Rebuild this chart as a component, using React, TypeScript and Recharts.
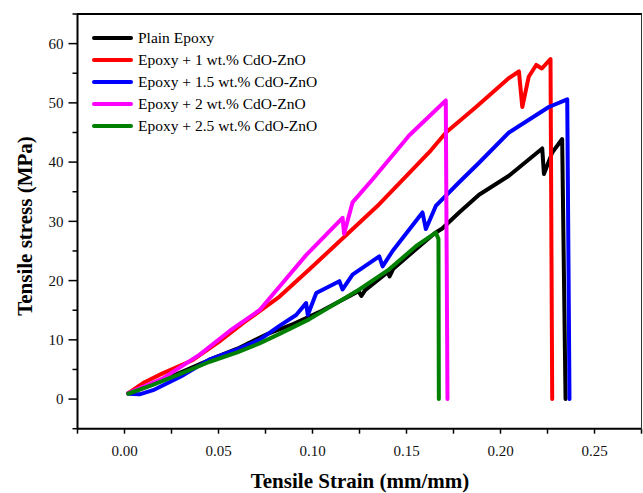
import { LineChart, Line, XAxis, YAxis, Legend } from "recharts";

// strain (mm/mm), stress (MPa) pairs
const plainEpoxy: [number, number][] = [
  [0.002, 1.0], [0.015, 2.5], [0.03, 4.5], [0.045, 6.6], [0.06, 8.5],
  [0.0754, 10.9], [0.09, 12.7], [0.105, 14.9], [0.1245, 18.2], [0.126, 17.4],
  [0.128, 18.4], [0.14, 21.4], [0.141, 20.7], [0.143, 22.0], [0.155, 25.3],
  [0.165, 28.0], [0.169, 28.8], [0.178, 31.5], [0.1886, 34.5], [0.2045, 37.7],
  [0.2222, 42.3], [0.2231, 38.0], [0.2275, 41.6], [0.2328, 43.9], [0.2346, 0],
];
const epoxy1: [number, number][] = [
  [0.002, 1.0], [0.0099, 2.7], [0.02, 4.3], [0.0364, 6.6], [0.05, 9.6],
  [0.063, 12.8], [0.0825, 17.3], [0.0984, 21.9], [0.1355, 32.9], [0.151, 38.0],
  [0.163, 42.0], [0.171, 45.0], [0.187, 49.3], [0.2045, 54.2], [0.2098, 55.3],
  [0.2116, 49.3], [0.215, 54.4], [0.219, 56.4], [0.222, 55.8], [0.2266, 57.4],
  [0.2275, 0],
];
const epoxy15: [number, number][] = [
  [0.002, 0.9], [0.008, 0.8], [0.0152, 1.5], [0.03, 3.8], [0.0453, 6.7],
  [0.06, 8.4], [0.0718, 10.0], [0.0826, 12.4], [0.0913, 14.2], [0.0966, 16.2],
  [0.0975, 14.2], [0.102, 17.9], [0.1143, 19.9], [0.116, 18.5], [0.1213, 21.0],
  [0.1355, 24.1], [0.1373, 22.4], [0.1426, 25.0], [0.1585, 31.5], [0.1603, 28.7],
  [0.1656, 32.6], [0.178, 36.6], [0.1886, 39.9], [0.2045, 45.0], [0.2257, 49.3],
  [0.2355, 50.6], [0.2367, 0],
];
const epoxy2: [number, number][] = [
  [0.002, 1.0], [0.02, 3.4], [0.04, 7.5], [0.0559, 11.5], [0.0718, 15.0],
  [0.0966, 24.3], [0.116, 30.6], [0.1168, 27.9], [0.1213, 33.2], [0.132, 37.1],
  [0.1514, 44.5], [0.1709, 50.4], [0.1718, 0],
];
const epoxy25: [number, number][] = [
  [0.002, 0.9], [0.015, 2.4], [0.03, 4.3], [0.0453, 6.3], [0.06, 7.9],
  [0.0718, 9.4], [0.0825, 11.0], [0.0984, 13.5], [0.1249, 18.5], [0.1408, 21.9],
  [0.155, 25.8], [0.1656, 28.1], [0.167, 27.0], [0.1672, 0],
];

const seriesNames = [
  "Plain Epoxy",
  "Epoxy + 1 wt.% CdO-ZnO",
  "Epoxy + 1.5 wt.% CdO-ZnO",
  "Epoxy + 2 wt.% CdO-ZnO",
  "Epoxy + 2.5 wt.% CdO-ZnO",
];
const seriesColors = ["#000000", "#ff0000", "#0000ff", "#ff00ff", "#008000"];
const seriesData = [plainEpoxy, epoxy1, epoxy15, epoxy2, epoxy25];

const xTicks = [-0.025, 0, 0.025, 0.05, 0.075, 0.1, 0.125, 0.15, 0.175, 0.2, 0.225, 0.25, 0.275];
const yTicks = [-5, 0, 5, 10, 15, 20, 25, 30, 35, 40, 45, 50, 55, 60, 65];

const FONT = '"Liberation Serif", "Times New Roman", serif';

const isMajorX = (v: number) => v >= 0 && v <= 0.25 && Math.abs(v * 20 - Math.round(v * 20)) < 1e-6;
const isMajorY = (v: number) => v >= 0 && v <= 60 && v % 10 === 0;

function XTick({ x, y, payload }: any) {
  const major = isMajorX(payload.value);
  return (
    <g>
      <line x1={x} x2={x} y1={y} y2={y + 5} stroke="#000" strokeWidth={1.5} />
      {major && (
        <text x={x} y={y + 27} textAnchor="middle" fontSize={15} fontFamily={FONT} fill="#111">
          {payload.value.toFixed(2)}
        </text>
      )}
    </g>
  );
}

function YTick({ x, y, payload }: any) {
  const major = isMajorY(payload.value);
  return (
    <g>
      <line x1={x - (major ? 9 : 5)} x2={x} y1={y} y2={y} stroke="#000" strokeWidth={1.5} />
      {major && (
        <text x={x - 14} y={y} dy="0.35em" textAnchor="end" fontSize={15} fontFamily={FONT} fill="#111">
          {payload.value}
        </text>
      )}
    </g>
  );
}

function XTitle() {
  return (
    <text x={360} y={488} textAnchor="middle" fontSize={21} fontWeight="bold" fontFamily={FONT} fill="#000">
      Tensile Strain (mm/mm)
    </text>
  );
}

function YTitle() {
  return (
    <text
      x={27}
      y={226}
      transform="rotate(-90 27 226)"
      textAnchor="middle"
      dominantBaseline="middle"
      fontSize={21}
      fontWeight="bold"
      fontFamily={FONT}
      fill="#000"
    >
      Tensile stress (MPa)
    </text>
  );
}

function LegendBox() {
  return (
    <div>
      {seriesNames.map((name, i) => (
        <div key={name} style={{ display: "flex", alignItems: "center", height: 22 }}>
          <span
            style={{
              display: "inline-block",
              width: 41,
              height: 4,
              borderRadius: 2,
              background: seriesColors[i],
              marginRight: 5,
            }}
          />
          <span style={{ fontFamily: FONT, fontSize: 15.5, color: "#000", whiteSpace: "nowrap" }}>{name}</span>
        </div>
      ))}
    </div>
  );
}

export default function App() {
  return (
    <div style={{ position: "absolute", left: 0, top: 0, width: 643, height: 493, background: "#fff" }}>
      <LineChart width={643} height={493} margin={{ top: 14, right: 1.5, bottom: 0, left: 0 }}>
        <XAxis
          type="number"
          dataKey="x"
          domain={[-0.025, 0.275]}
          ticks={xTicks}
          interval={0}
          tickSize={0}
          tickMargin={0}
          tick={<XTick />}
          height={64.3}
          axisLine={{ stroke: "#000", strokeWidth: 2 }}
          label={<XTitle />}
        />
        <YAxis
          type="number"
          dataKey="y"
          domain={[-5, 65]}
          ticks={yTicks}
          interval={0}
          tickSize={0}
          tickMargin={0}
          tick={<YTick />}
          width={77.5}
          axisLine={{ stroke: "#000", strokeWidth: 2 }}
          label={<YTitle />}
        />
        <Legend
          layout="vertical"
          align="center"
          verticalAlign="middle"
          content={<LegendBox />}
          wrapperStyle={{ left: 92, top: 27, width: 260 }}
        />
        {seriesData.map((pts, i) => (
          <Line
            key={seriesNames[i]}
            name={seriesNames[i]}
            data={pts.map(([x, y]) => ({ x, y }))}
            dataKey="y"
            type="linear"
            stroke={seriesColors[i]}
            strokeWidth={4}
            strokeLinejoin="round"
            strokeLinecap="round"
            dot={false}
            activeDot={false}
            isAnimationActive={false}
          />
        ))}
      </LineChart>
      {/* top and right frame of the plot box */}
      <div
        style={{
          position: "absolute",
          left: 77,
          top: 13,
          width: 563.5,
          height: 415,
          borderTop: "2px solid #000",
          borderRight: "1.5px solid #333",
          pointerEvents: "none",
          zIndex: 10,
        }}
      />
    </div>
  );
}
